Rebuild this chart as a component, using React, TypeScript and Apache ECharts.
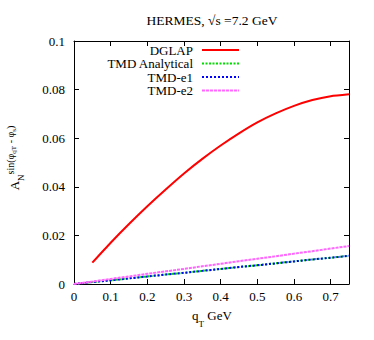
import React, { useEffect, useRef } from "react";
import * as echarts from "echarts";

const qT = [0, 0.05, 0.1, 0.15, 0.2, 0.25, 0.3, 0.35, 0.4, 0.45, 0.5, 0.55, 0.6, 0.65, 0.7, 0.75];
const dglapQ = [0.05, 0.1, 0.15, 0.2, 0.25, 0.3, 0.35, 0.4, 0.45, 0.5, 0.55, 0.6, 0.65, 0.7, 0.75];
const dglap = [0.0088, 0.017, 0.0247, 0.032, 0.0389, 0.0455, 0.0515, 0.057, 0.062, 0.0665, 0.0702, 0.0733, 0.0757, 0.0773, 0.0781];
const tmdAnalytical = [0, 0.0008, 0.0015, 0.0023, 0.0031, 0.0039, 0.0046, 0.0054, 0.0062, 0.007, 0.0077, 0.0085, 0.0093, 0.0101, 0.0108, 0.0116];
const tmdE1 = [0, 0.0008, 0.0015, 0.0023, 0.0031, 0.0039, 0.0046, 0.0054, 0.0062, 0.007, 0.0077, 0.0085, 0.0093, 0.0101, 0.0108, 0.0116];
const tmdE2 = [0, 0.001, 0.0021, 0.0031, 0.0042, 0.0052, 0.0062, 0.0073, 0.0083, 0.0094, 0.0104, 0.0114, 0.0125, 0.0135, 0.0146, 0.0156];
const seriesNames = ["DGLAP", "TMD Analytical", "TMD-e1", "TMD-e2"];

const FONT = "'Liberation Serif', 'Times New Roman', serif";

function measure(text: string, size: number): number {
  const c = document.createElement("canvas").getContext("2d")!;
  c.font = `${size}px 'Liberation Serif', serif`;
  return c.measureText(text).width;
}

// pieces: [text, fontSize, baseline offset (positive = down)]
type Piece = [string, number, number];

function richLabel(pieces: Piece[]) {
  let total = 0;
  const widths = pieces.map(([t, s]) => {
    const w = measure(t, s);
    total += w;
    return w;
  });
  let x = -total / 2;
  return pieces.map(([t, s, dy], i) => {
    const el = {
      type: "text",
      x,
      y: dy - 0.33 * s,
      style: { text: t, font: `${s}px ${FONT}`, fill: "#000", align: "left", verticalAlign: "middle" },
    };
    x += widths[i];
    return el;
  });
}

export default function App() {
  const ref = useRef<HTMLDivElement>(null);
  useEffect(() => {
    const chart = echarts.init(ref.current!, null, { renderer: "svg" });
    const axisCommon = {
      type: "value" as const,
      axisLine: { show: true, onZero: false, lineStyle: { color: "#000", width: 1 } },
      axisTick: { show: true, inside: true, length: 5, lineStyle: { color: "#000" } },
      splitLine: { show: false },
    };
    chart.setOption({
      animation: false,
      backgroundColor: "#fff",
      title: {
        text: "HERMES, √s =7.2 GeV",
        left: 212,
        top: 13,
        padding: 0,
        textAlign: "center",
        textStyle: { fontFamily: FONT, fontSize: 13.5, fontWeight: "normal", color: "#000" },
      },
      grid: { left: 74, right: 25, top: 41, bottom: 56 },
      legend: {
        orient: "vertical",
        align: "right",
        right: 134,
        top: 43.3,
        padding: 0,
        itemWidth: 37,
        itemHeight: 10,
        itemGap: 0,
        data: seriesNames,
        itemStyle: { opacity: 0 },
        textStyle: { fontFamily: FONT, fontSize: 13, color: "#000", lineHeight: 13.5, padding: [0, 4, 0, 0] },
      },
      xAxis: [
        {
          ...axisCommon,
          position: "bottom",
          min: 0,
          max: 0.75,
          interval: 0.1,
          axisLabel: {
            showMaxLabel: false,
            margin: 6,
            fontFamily: FONT,
            fontSize: 13,
            color: "#000",
            formatter: (v: number) => String(+v.toFixed(2)),
          },
        },
        {
          ...axisCommon,
          position: "top",
          min: 0,
          max: 0.75,
          interval: 0.1,
          axisLabel: { show: false },
        },
      ],
      yAxis: [
        {
          ...axisCommon,
          position: "left",
          min: 0,
          max: 0.1,
          interval: 0.02,
          axisLabel: {
            margin: 9,
            fontFamily: FONT,
            fontSize: 13,
            color: "#000",
            formatter: (v: number) => String(+v.toFixed(2)),
          },
        },
        {
          ...axisCommon,
          position: "right",
          min: 0,
          max: 0.1,
          interval: 0.02,
          axisLabel: { show: false },
        },
      ],
      series: [
        {
          name: "DGLAP",
          type: "line",
          data: dglapQ.map((x, i) => [x, dglap[i]]),
          symbol: "none",
          smooth: 0.2,
          lineStyle: { color: "#ff0000", width: 2 },
          itemStyle: { color: "#ff0000" },
        },
        {
          name: "TMD Analytical",
          type: "line",
          data: qT.map((x, i) => [x, tmdAnalytical[i]]),
          symbol: "none",
          lineStyle: { color: "#00dd00", width: 2, type: [2, 1.5] },
          itemStyle: { color: "#00dd00" },
        },
        {
          name: "TMD-e1",
          type: "line",
          data: qT.map((x, i) => [x, tmdE1[i]]),
          symbol: "none",
          lineStyle: { color: "#0000ff", width: 2, type: [2, 2] },
          itemStyle: { color: "#0000ff" },
        },
        {
          name: "TMD-e2",
          type: "line",
          data: qT.map((x, i) => [x, tmdE2[i]]),
          symbol: "none",
          lineStyle: { color: "#ff66ff", width: 2, type: [3, 1] },
          itemStyle: { color: "#ff66ff" },
        },
      ],
      graphic: [
        {
          type: "group",
          x: 212,
          y: 319.3,
          children: richLabel([
            ["q", 13, 0],
            ["T", 9, 7.4],
            [" GeV", 13, 0],
          ]),
        },
        {
          type: "group",
          x: 18.3,
          y: 158,
          rotation: Math.PI / 2,
          children: richLabel([
            ["A", 13, 0],
            ["N", 9, 5.7],
            ["sin(φ", 10, -4.3],
            ["qT", 7, -1.5],
            [" - φ", 10, -4.3],
            ["s", 7, -1.5],
            [")", 10, -4.3],
          ]),
        },
      ],
    });
    return () => chart.dispose();
  }, []);
  return <div ref={ref} style={{ position: "absolute", left: 0, top: 0, width: 374, height: 340 }} />;
}
